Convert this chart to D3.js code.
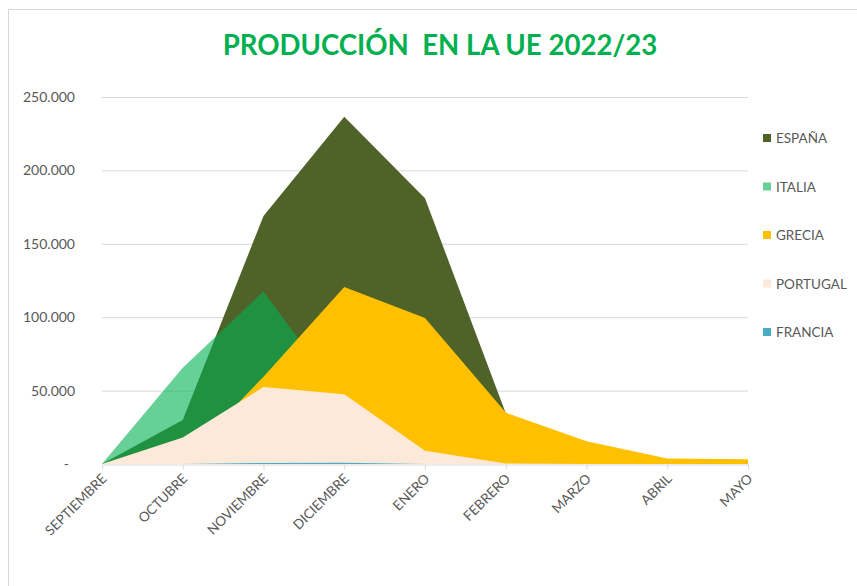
<!DOCTYPE html>
<html>
<head>
<meta charset="utf-8">
<script src="https://cdn.jsdelivr.net/npm/d3@7"></script>
<style>
  body { margin: 0; background: #fff; }
  svg { display: block; font-family: Lato, "Open Sans", sans-serif; }
</style>
</head>
<body>
<svg id="chart" width="857" height="586"></svg>
<script>
const months = ['SEPTIEMBRE', 'OCTUBRE', 'NOVIEMBRE', 'DICIEMBRE', 'ENERO', 'FEBRERO', 'MARZO', 'ABRIL', 'MAYO'];
const espana   = [0, 30000, 169000, 236500, 181000, 34500, 0, 0, 0];
const italia   = [0, 65500, 117500, 43000, 5000, 0, 0, 0, 0];
const grecia   = [0, 2000, 59500, 120500, 99500, 35000, 15500, 3800, 3200];
const portugal = [0, 18000, 52500, 47500, 9000, 300, 0, 0, 0];
const francia  = [0, 0, 700, 800, 0, 0, 0, 0, 0];
const yTicks = [0, 50000, 100000, 150000, 200000, 250000];

const series = [
  { name: 'ESPAÑA', values: espana, color: '#4F6228', opacity: 1 },
  { name: 'ITALIA', values: italia, color: '#00B050', opacity: 0.6 },
  { name: 'GRECIA', values: grecia, color: '#FFC000', opacity: 1 },
  { name: 'PORTUGAL', values: portugal, color: '#FDE9D9', opacity: 1 },
  { name: 'FRANCIA', values: francia, color: '#4BACC6', opacity: 1 }
];

const svg = d3.select('#chart');

// chart frame
svg.append('rect')
  .attr('x', 8.5).attr('y', 9.5)
  .attr('width', 900).attr('height', 700)
  .attr('fill', 'none')
  .attr('stroke', '#d9d9d9');

svg.append('text')
  .attr('x', 440).attr('y', 55)
  .attr('text-anchor', 'middle')
  .attr('fill', '#00B050')
  .attr('font-size', 27.6)
  .attr('font-weight', 'bold')
  .text('PRODUCCIÓN\u00A0 EN LA UE 2022/23');

const x = d3.scalePoint().domain(months).range([102, 748]);
const y = d3.scaleLinear().domain([0, 250000]).range([464, 97]);

// gridlines
svg.append('g')
  .selectAll('line')
  .data(yTicks.filter(d => d > 0))
  .join('line')
  .attr('x1', 102).attr('x2', 748)
  .attr('y1', d => y(d) + 0.5).attr('y2', d => y(d) + 0.5)
  .attr('stroke', '#d9d9d9');

// y labels
const fmt = d => d === 0 ? '-' : d3.format(',')(d).replace(/,/g, '.');
svg.append('g')
  .selectAll('text')
  .data(yTicks)
  .join('text')
  .attr('x', d => d === 0 ? 69 : 75)
  .attr('y', d => y(d) + 5)
  .attr('text-anchor', 'end')
  .attr('fill', '#595959')
  .attr('font-size', 14)
  .text(fmt);

// areas
const area = d3.area()
  .x((d, i) => x(months[i]))
  .y0(y(0))
  .y1(d => y(d));

svg.append('g')
  .selectAll('path')
  .data(series)
  .join('path')
  .attr('d', d => area(d.values))
  .attr('fill', d => d.color)
  .attr('fill-opacity', d => d.opacity);

// x axis
const xAxis = svg.append('g')
  .attr('transform', `translate(0,${y(0) + 0.5})`)
  .call(d3.axisBottom(x).tickSize(5).tickSizeOuter(0));
xAxis.select('.domain').attr('stroke', '#d9d9d9');
xAxis.selectAll('.tick line').attr('stroke', '#d9d9d9');
xAxis.selectAll('.tick text')
  .attr('fill', '#595959')
  .attr('font-size', 13.5)
  .attr('font-family', 'Lato, "Open Sans", sans-serif')
  .attr('text-anchor', 'end')
  .attr('dy', null)
  .attr('y', 0)
  .attr('transform', 'translate(5,15) rotate(-45)');

// legend
const legend = svg.append('g')
  .selectAll('g')
  .data(series)
  .join('g')
  .attr('transform', (d, i) => `translate(763,${138 + i * 48.5})`);
legend.append('rect')
  .attr('x', 0).attr('y', -4)
  .attr('width', 8).attr('height', 8)
  .attr('fill', d => d.color)
  .attr('fill-opacity', d => d.opacity);
legend.append('text')
  .attr('x', 13).attr('y', 5)
  .attr('fill', '#595959')
  .attr('font-size', 13.5)
  .text(d => d.name);
</script>
</body>
</html>
